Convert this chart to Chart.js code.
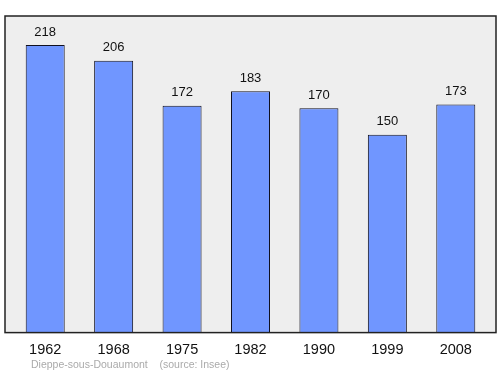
<!DOCTYPE html>
<html>
<head>
<meta charset="utf-8">
<script src="https://cdn.jsdelivr.net/npm/chart.js@4/dist/chart.umd.min.js"></script>
<style>
html,body{margin:0;padding:0;background:#fff;}
#wrap{width:500px;height:374px;position:relative;}
</style>
</head>
<body>
<div id="wrap"><canvas id="c"></canvas></div>
<script>
const categories = ["1962","1968","1975","1982","1990","1999","2008"];
const population = [218,206,172,183,170,150,173];
const footerLabels = ["Dieppe-sous-Douaumont","(source: Insee)"];

const framePlugin = {
  id:'frame',
  beforeDatasetsDraw(chart){
    const a = chart.chartArea, ctx = chart.ctx;
    ctx.save();
    ctx.fillStyle = '#eeeeee';
    ctx.fillRect(a.left-6, a.top, a.right-a.left+12, a.bottom-a.top);
    ctx.restore();
  },
  afterDatasetsDraw(chart){
    const a = chart.chartArea, ctx = chart.ctx;
    ctx.save();
    ctx.strokeStyle = '#222222';
    ctx.lineWidth = 1.5;
    ctx.strokeRect(a.left-6, a.top, a.right-a.left+12, a.bottom-a.top);
    // value labels
    const meta = chart.getDatasetMeta(0);
    ctx.fillStyle = '#111111';
    ctx.font = '13px "Liberation Sans", Arial, sans-serif';
    ctx.textAlign = 'center';
    ctx.textBaseline = 'middle';
    meta.data.forEach((el,i)=>{
      ctx.fillText(String(population[i]), el.x, el.y-13);
    });
    // footer
    ctx.fillStyle = '#aaaaaa';
    ctx.font = '10.5px "Liberation Sans", Arial, sans-serif';
    ctx.textAlign = 'left';
    ctx.fillText(footerLabels[0], 31, 365);
    ctx.fillText(footerLabels[1], 159.5, 365);
    ctx.restore();
  }
};

new Chart(document.getElementById('c'), {
  type:'bar',
  data:{
    labels:categories,
    datasets:[{
      data:population,
      backgroundColor:'#7096ff',
      borderColor:'#101020',
      borderWidth:1,
      barPercentage:0.57,
      categoryPercentage:1
    }]
  },
  options:{
    responsive:true,
    maintainAspectRatio:false,
    animation:false,
    layout:{padding:{left:11,right:10,top:16,bottom:14}},
    plugins:{legend:{display:false},tooltip:{enabled:false}},
    scales:{
      x:{
        grid:{display:false},
        border:{display:false},
        ticks:{color:'#111111',padding:1,font:{size:14.5,family:'"Liberation Sans", Arial, sans-serif'}}
      },
      y:{
        display:false,
        min:0,max:240
      }
    }
  },
  plugins:[framePlugin]
});
</script>
</body>
</html>
